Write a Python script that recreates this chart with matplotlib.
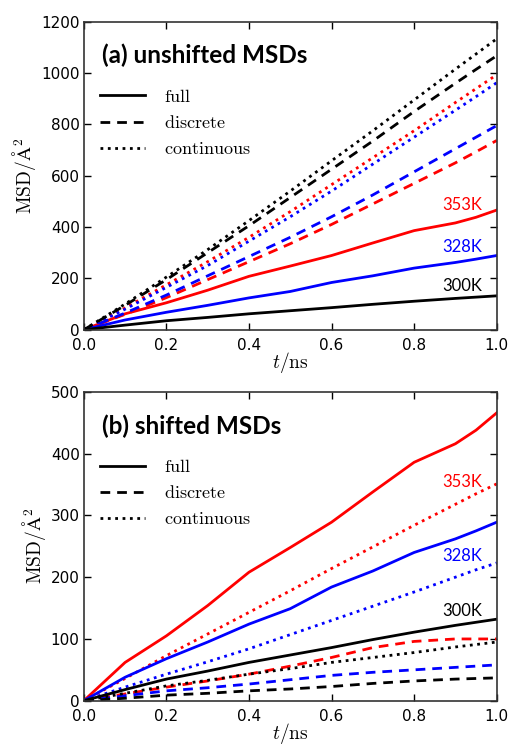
import matplotlib
matplotlib.use('Agg')
import matplotlib.pyplot as plt
from matplotlib.lines import Line2D

# time axis (ns)
t = [0.0, 0.1, 0.2, 0.3, 0.4, 0.5, 0.6, 0.7, 0.8, 0.9, 0.95, 1.0]

# full MSDs (same in both panels)
full_353 = [0, 62, 105, 154, 208, 248, 289, 338, 386, 416, 438, 466]
full_328 = [0, 38, 68, 95, 124, 149, 184, 210, 240, 262, 275, 289]
full_300 = [0, 18, 35, 48, 62, 74, 86, 99, 111, 122, 127, 132]

# (a) unshifted
disc_353_a = [0, 60, 125, 195, 265, 335, 410, 490, 570, 650, 693, 737]
disc_328_a = [0, 65, 135, 210, 285, 360, 440, 525, 615, 705, 750, 795]
disc_300_a = [0, 95, 195, 300, 405, 515, 625, 735, 850, 960, 1014, 1067]
cont_353_a = [0, 85, 175, 265, 360, 460, 565, 670, 775, 885, 939, 993]
cont_328_a = [0, 80, 165, 250, 345, 440, 540, 645, 750, 855, 908, 962]
cont_300_a = [0, 100, 205, 312, 425, 540, 658, 775, 895, 1015, 1074, 1133]

# (b) shifted
disc_353_b = [0, 11, 22, 32, 43, 56, 70, 86, 96, 100, 100, 100]
disc_328_b = [0, 8, 16, 21, 27, 34, 41, 46, 50, 54, 56, 58]
disc_300_b = [0, 4, 9, 12, 16, 19, 23, 28, 32, 35, 36, 37]
cont_353_b = [0, 36, 73, 108, 143, 178, 214, 249, 284, 318, 335, 351]
cont_328_b = [0, 22, 43, 63, 84, 107, 130, 153, 176, 200, 212, 223]
cont_300_b = [0, 12, 24, 33, 43, 52, 62, 70, 78, 87, 91, 95]

temps = ['353K', '328K', '300K']
colors = ['r', 'b', 'k']

plt.rcParams['mathtext.fontset'] = 'cm'
plt.rcParams['xtick.direction'] = 'in'
plt.rcParams['ytick.direction'] = 'in'
plt.rcParams['xtick.top'] = True
plt.rcParams['ytick.right'] = True

fig = plt.figure(figsize=(5.11, 7.46), dpi=100)
ax_a = fig.add_axes([0.164, 0.558, 0.808, 0.413])
ax_b = fig.add_axes([0.164, 0.0607, 0.808, 0.414])

dash = (3.5, 2.5)

panels = [
    (ax_a, [full_353, full_328, full_300],
     [disc_353_a, disc_328_a, disc_300_a],
     [cont_353_a, cont_328_a, cont_300_a],
     1200, 200, '(a) unshifted MSDs', [487, 323, 171]),
    (ax_b, [full_353, full_328, full_300],
     [disc_353_b, disc_328_b, disc_300_b],
     [cont_353_b, cont_328_b, cont_300_b],
     500, 100, '(b) shifted MSDs', [354, 234, 145]),
]

for ax, fulls, discs, conts, ymax, ystep, title, label_y in panels:
    for c, f, d, co in zip(colors, fulls, discs, conts):
        ax.plot(t, co, color=c, lw=2, linestyle=':')
        ax.plot(t, d, color=c, lw=2, linestyle='--', dashes=dash)
        ax.plot(t, f, color=c, lw=2, linestyle='-')

    ax.set_xlim(0, 1)
    ax.set_ylim(0, ymax)
    ax.set_xticks([0.0, 0.2, 0.4, 0.6, 0.8, 1.0])
    ax.set_yticks(range(0, ymax + 1, ystep))
    ax.tick_params(labelsize=11, length=5, width=1)
    ax.tick_params(axis='y', pad=3)
    ax.tick_params(axis='x', pad=6)
    for sp in ax.spines.values():
        sp.set_linewidth(1.2)
        sp.set_color('#333333')

    ax.set_xlabel(r'$t/\mathrm{ns}$', fontsize=14, labelpad=-2)
    ax.set_ylabel(r'$\mathrm{MSD}/\mathrm{\AA}^2$', fontsize=14, labelpad=2)

    ax.text(0.045, 0.89, title, transform=ax.transAxes, fontsize=17.5,
            fontweight='bold', family='Lato', va='center', ha='left')

    for name, c, yv in zip(temps, colors, label_y):
        ax.text(0.965, yv, name, color=c, fontsize=12, family='Lato',
                ha='right', va='center', transform=ax.get_yaxis_transform())

    handles = [
        Line2D([], [], color='k', lw=2, linestyle='-'),
        Line2D([], [], color='k', lw=2, linestyle='--', dashes=dash),
        Line2D([], [], color='k', lw=2, linestyle=':'),
    ]
    ax.legend(handles, [r'$\mathrm{full}$', r'$\mathrm{discrete}$',
                        r'$\mathrm{continuous}$'],
              loc='upper left', bbox_to_anchor=(0.0, 0.838), frameon=False,
              fontsize=13, handlelength=2.5, handletextpad=1.05,
              labelspacing=0.45)

fig.savefig('out.png', dpi=100)
